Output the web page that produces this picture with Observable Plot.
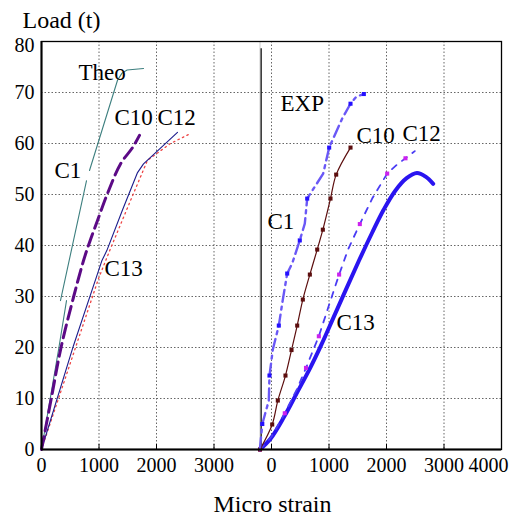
<!DOCTYPE html>
<html>
<head>
<meta charset="utf-8">
<script src="https://cdn.jsdelivr.net/npm/d3@7"></script>
<script src="https://cdn.jsdelivr.net/npm/@observablehq/plot@0.6"></script>
<style>
  html, body { margin: 0; padding: 0; background: #fff; }
</style>
</head>
<body>
<div id="chart"></div>
<script>
// ---- Data (strain [micro strain], load [t]) ----
// Left panel: theoretical curves
const theoC1 = [
  [0, 0, "a"], [300, 19.8, "a"], [435, 29.2, "a"],
  [330, 29.2, "b"], [557, 41, "b"], [783, 52.7, "b"],
  [835, 54.7, "c"], [1322, 72.4, "c"], [1400, 73.8, "c"], [1490, 74.4, "c"], [1774, 74.7, "c"]
];
const theoC10 = [[0, 0], [170, 10], [340, 20], [560, 30], [730, 37], [847, 41], [974, 44.9], [1148, 50.2], [1374, 56], [1583, 59.2], [1704, 61.6]];
const theoC12 = [[0, 0], [557, 20.4], [1049, 37], [1136, 39], [1410, 47], [1670, 54.3], [1774, 56], [2365, 62.2]];
const theoC13 = [[0, 0], [586, 19.8], [991, 33.5], [1200, 39.4], [1600, 50.2], [1843, 56.7], [2243, 60], [2600, 62]];

// Right panel: experimental curves
const expC1 = [[-203, 0], [-160, 5], [-47, 9.6], [-35, 14.5], [23, 19.6], [127, 24.3], [197, 29.4], [273, 34.5], [360, 36.5], [492, 41], [579, 44.3], [621, 49.2], [899, 54.1], [1003, 59.2], [1230, 64.9], [1374, 67.8], [1478, 69.2], [1606, 69.7]];
const expC10 = [[-200, 0], [12, 4.9], [110, 9.6], [243, 14.5], [348, 19.5], [447, 24.3], [545, 29.4], [667, 34.3], [795, 39.2], [893, 43.1], [1026, 49.2], [1125, 53.9], [1374, 59.2]];
const expC12 = [[-200, 0], [0, 2.5], [231, 7.1], [450, 12], [600, 16], [725, 19.5], [823, 22.2], [1026, 29.2], [1176, 34.3], [1334, 39.3], [1536, 44.2], [1751, 49.2], [2012, 54.1], [2186, 55.9], [2330, 57.1], [2492, 58.5]];
const expC13 = [[-200, 0], [-17, 2.1], [214, 6.3], [447, 11.2], [678, 16.1], [870, 20.6], [1083, 26], [1300, 31.5], [1520, 37], [1750, 42.5], [1950, 47], [2150, 50.7], [2350, 53.2], [2530, 54.2], [2680, 53.5], [2812, 52.1]];

// Axis ticks
const yTicks = [0, 10, 20, 30, 40, 50, 60, 70, 80];
const xTicksLeft = [0, 1000, 2000, 3000];
const xTicksRight = [0, 1000, 2000, 3000, 4000];

// Annotations
const labelText   = ["Theo", "C1", "C10", "C12", "C13", "EXP", "C1", "C10", "C12", "C13"];
const labelStrain = [643, 226, 1270, 2017, 1096, 157, -70, 1478, 2278, 1130];
const labelLoad   = [73.9, 54.7, 65.1, 65.1, 35.5, 67.8, 44.7, 61.6, 62, 24.9];
const labelPanel  = ["L", "L", "L", "L", "L", "R", "R", "R", "R", "R"];

// Right panel sits after left panel on a shared strain axis
const RIGHT = 4000;
const LEFT_END = 3800;
const xTicksAll = [...xTicksLeft, ...xTicksRight.map(d => d + RIGHT)];
const gridX = [...xTicksLeft.filter(d => d > 0), ...xTicksRight.filter(d => d < 4000).map(d => d + RIGHT)];
const gridY = yTicks.filter(d => d > 0 && d < 80);
const labels = labelText.map((t, i) => ({t, x: labelStrain[i] + (labelPanel[i] === "R" ? RIGHT : 0), y: labelLoad[i]}));

const L = {x: d => d[0], y: d => d[1]};
const R = {x: d => d[0] + RIGHT, y: d => d[1]};
const fmt = d => String(d >= RIGHT ? d - RIGHT : d);

const chart = Plot.plot({
  width: 513,
  height: 515,
  marginTop: 41,
  marginRight: 12,
  marginBottom: 66,
  marginLeft: 41,
  style: {fontFamily: "'Liberation Serif', 'Times New Roman', serif", fontSize: "20px", background: "#fff"},
  x: {domain: [0, 8000], axis: null},
  y: {domain: [0, 80], axis: null},
  marks: [
    // grid
    Plot.ruleY(gridY, {stroke: "#666", strokeDasharray: "1.5,2", strokeWidth: 1}),
    Plot.ruleX(gridX, {stroke: "#666", strokeDasharray: "1.5,2", strokeWidth: 1}),
    Plot.ruleX([LEFT_END], {stroke: "#ccc", strokeWidth: 1}),
    Plot.ruleX([LEFT_END + 20], {y1: 0, y2: 78.6, stroke: "black", strokeWidth: 1.2}),
    // inward ticks
    Plot.ruleX(xTicksAll.filter(d => d > 0 && d < 8000), {y1: 0, y2: 1, stroke: "black"}),
    // theoretical (left)
    Plot.line(theoC1, {...L, z: d => d[2], stroke: "#3d7f7f", strokeWidth: 1.1}),
    Plot.line(theoC13, {...L, stroke: "#ee4444", strokeWidth: 1.3, strokeDasharray: "1.5,3.5"}),
    Plot.line(theoC12, {...L, stroke: "#1c1c8c", strokeWidth: 1.1}),
    Plot.line(theoC10, {...L, stroke: "#5c0a86", strokeWidth: 3, strokeDasharray: "13,6", curve: "catmull-rom"}),
    // experimental (right)
    Plot.line(expC13, {...R, stroke: "#2a14f0", strokeWidth: 4, curve: "catmull-rom"}),
    Plot.line(expC12, {...R, stroke: "#4a3cf4", strokeWidth: 1.8, strokeDasharray: "6,7"}),
    Plot.dot(expC12.filter((d, i) => i % 2 === 0), {...R, symbol: "square", r: 2.3, fill: "#cc22ee"}),
    Plot.line(expC10, {...R, stroke: "#5c0e0e", strokeWidth: 1.2, curve: "catmull-rom"}),
    Plot.dot(expC10, {...R, symbol: "square", r: 2.3, fill: "#5c0e0e"}),
    Plot.line(expC1, {...R, stroke: "#6a58f6", strokeWidth: 2.4, strokeDasharray: "12,5,3,5"}),
    Plot.dot(expC1.filter((d, i) => i % 2 === 1), {...R, symbol: "square", r: 2.3, fill: "#2410ff"}),
    // frame and axes
    Plot.frame({stroke: "black", strokeWidth: 1.3}),
    Plot.ruleX([0], {stroke: "black", strokeWidth: 2}),
    Plot.ruleY([0], {stroke: "black", strokeWidth: 2}),
    Plot.axisY({ticks: yTicks.filter(d => d < 80), tickSize: 0, tickPadding: 7, fontSize: 20, label: null}),
    Plot.axisY({ticks: [80], tickSize: 0, tickPadding: 7, fontSize: 20, label: null, dy: 4}),
    Plot.axisX({ticks: xTicksAll.filter(d => d < 8000), tickSize: 0, tickPadding: 8, fontSize: 20, label: null, tickFormat: fmt}),
    Plot.axisX({ticks: [8000], tickSize: 0, tickPadding: 8, fontSize: 20, label: null, tickFormat: fmt, dx: -13}),
    // annotations
    Plot.text(labels, {x: "x", y: "y", text: "t", textAnchor: "start", fontSize: 23, fill: "black"}),
    Plot.text(["Load (t)"], {frameAnchor: "top-left", dx: -19, dy: -31, textAnchor: "start", fontSize: 24, fill: "black"}),
    Plot.text(["Micro strain"], {frameAnchor: "bottom", dx: 1, dy: 62, fontSize: 24, fill: "black"})
  ]
});
document.getElementById("chart").appendChild(chart);
</script>
</body>
</html>
